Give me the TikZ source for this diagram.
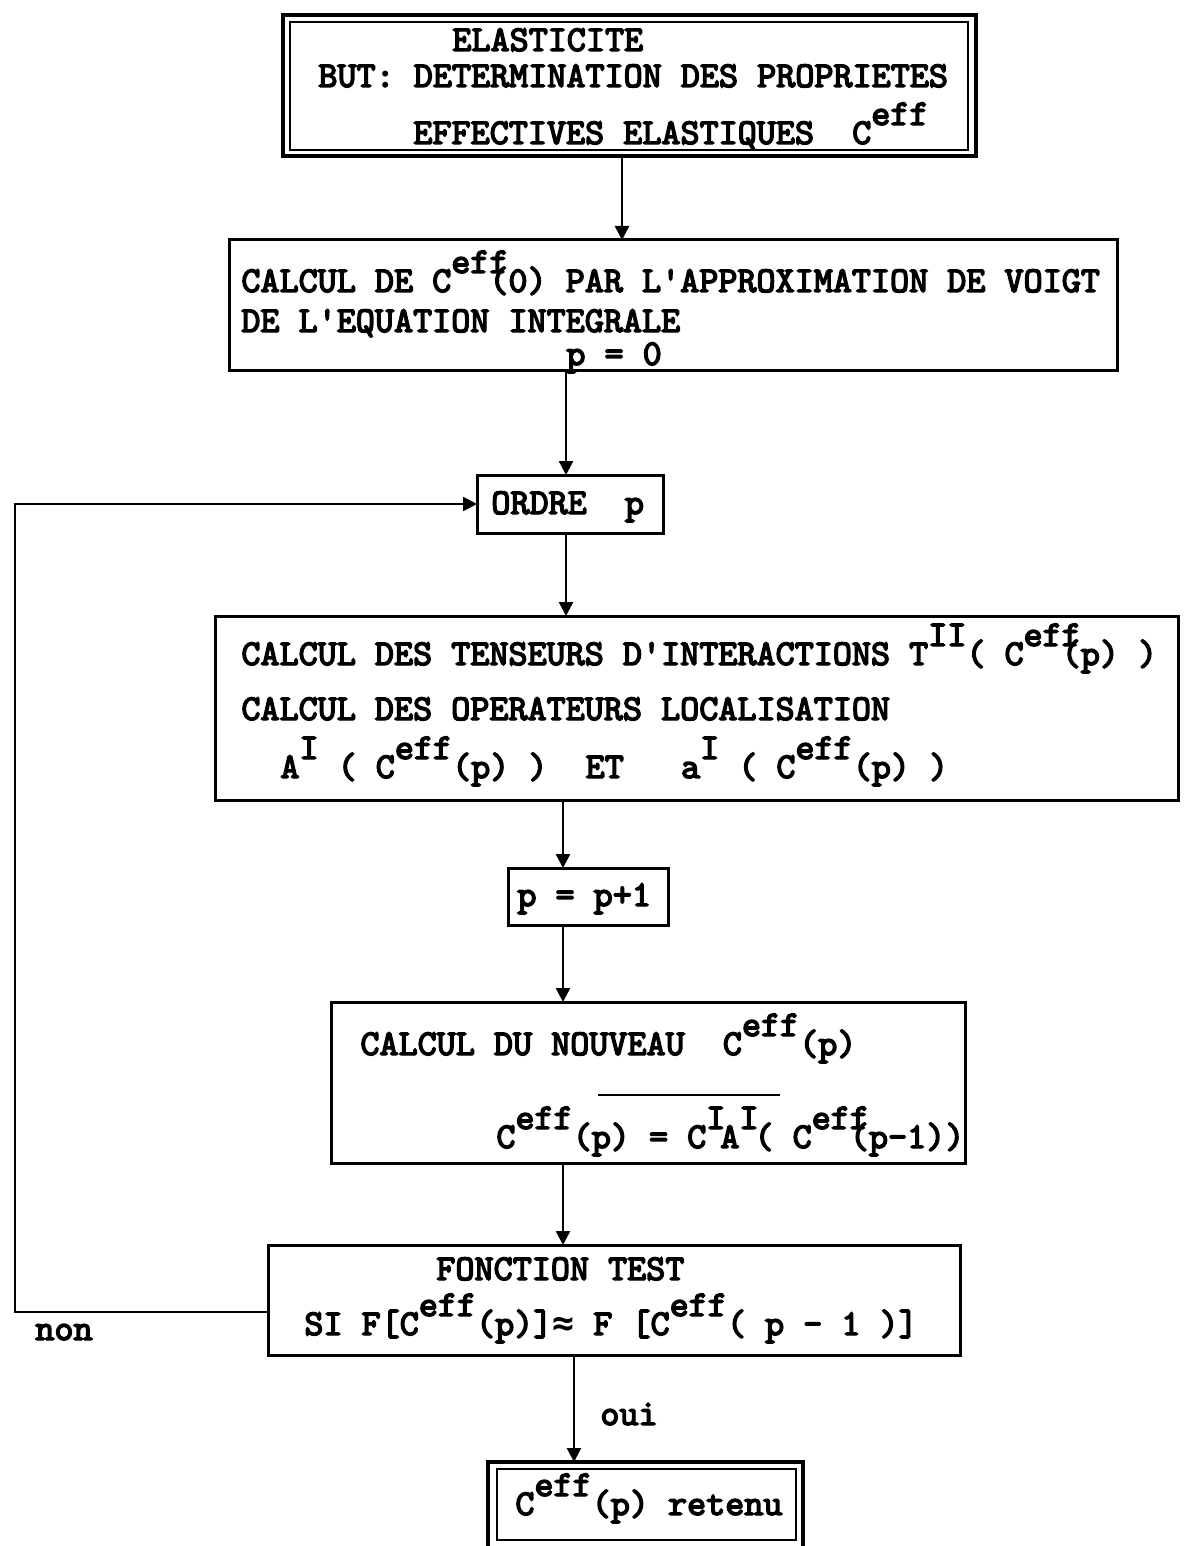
\documentclass[tikz,border=0pt]{standalone}
\usepackage{fontspec}
\newfontfamily\machine{lmmono10-regular.otf}[FakeBold=4]
\newfontfamily\signes{DejaVu Sans Mono Bold}
\usepackage{tikz}
\usetikzlibrary{arrows.meta}

% exposants a la machine a ecrire
\newcommand{\ex}[1]{\raisebox{9.5pt}{#1}}
\newcommand{\exo}[1]{\rlap{\raisebox{9.5pt}{#1}}\hspace{19.08pt}}
\newcommand{\env}{{\signes ≈}}

\tikzset{
  boite/.style={draw, line width=1.5pt, inner sep=0pt, outer sep=0pt},
  cadre/.style={draw, line width=1.9pt, inner sep=0pt, outer sep=0pt},
  ligne/.style={anchor=base west, inner sep=0pt,
    font=\fontsize{18.17}{22}\selectfont\machine},
  fleche/.style={line width=1.2pt, -{Triangle[length=7pt,width=7pt]}}
}

\begin{document}
\begin{tikzpicture}[x=0.5pt,y=-0.5pt]
  \useasboundingbox (0,0) rectangle (1192,1546);

  % les boites
  \node[cadre, minimum width=346.5pt, minimum height=70.5pt] (but) at (629.5,85.5) {};
  \node[boite, line width=1.1pt, minimum width=339pt, minimum height=64pt] (butin) at (629,86) {};
  \node[boite, minimum width=444pt, minimum height=65pt] (voigt) at (673,305) {};
  \node[boite, minimum width=93pt, minimum height=29pt] (ordre) at (570,504) {};
  \node[boite, minimum width=481.5pt, minimum height=92pt] (tenseurs) at (696.5,708) {};
  \node[boite, minimum width=80pt, minimum height=28.5pt] (incr) at (588,896.5) {};
  \node[boite, minimum width=317pt, minimum height=80.5pt] (nouveau) at (648,1082.5) {};
  \node[boite, minimum width=346pt, minimum height=55pt] (test) at (614,1300) {};
  \node[cadre, minimum width=157.5pt, minimum height=59pt] (retenu) at (645.5,1521) {};
  \node[boite, line width=1.1pt, minimum width=149.5pt, minimum height=35.5pt] (retenuin) at (646.5,1504.5) {};

  % les textes
  \node[ligne] (t1) at (452,51) {ELASTICITE};
  \node[ligne] (t2) at (318,87) {BUT: DETERMINATION DES PROPRIETES};
  \node[ligne] (t3) at (413,144) {EFFECTIVES ELASTIQUES\ \ C\ex{eff}};

  \node[ligne] (v1) at (241,292) {CALCUL DE C\exo{eff}(0) PAR L'APPROXIMATION DE VOIGT};
  \node[ligne] (v2) at (241,332) {DE L'EQUATION INTEGRALE};
  \node[ligne] (v3) at (566,365) {p = 0};

  \node[ligne] (o1) at (491,514) {ORDRE\ \ p};

  \node[ligne] (c1) at (241,665) {CALCUL DES TENSEURS D'INTERACTIONS T\ex{II}( C\exo{eff}(p) )};
  \node[ligne] (c2) at (241,720) {CALCUL DES OPERATEURS LOCALISATION};
  \node[ligne] (c3) at (280,778) {A\ex{I} ( C\ex{eff}(p) )\ \ ET\ \ \ a\ex{I} ( C\ex{eff}(p) )};

  \node[ligne] (i1) at (517,906) {p = p+1};

  \node[ligne] (n1) at (360,1055) {CALCUL DU NOUVEAU\ \ C\ex{eff}(p)};
  \node[ligne] (n2) at (496,1148) {C\ex{eff}(p) = C\ex{I}\kern-2.5pt A\ex{I}\kern-2pt( C\exo{eff}(p-1))};
  \draw[line width=1.3pt] (598,1095) -- (780,1095);

  \node[ligne] (f1) at (436,1280) {FONCTION TEST};
  \node[ligne] (f2) at (304,1335) {SI F[C\ex{eff}(p)]\env{} F [C\ex{eff}( p - 1 )]};

  \node[ligne] (r1) at (515,1515) {C\ex{eff}(p) retenu};

  \node[ligne] (non) at (35,1340) {non};
  \node[ligne] (oui) at (600,1425) {oui};

  % les fleches
  \coordinate (gauche) at (15,0);
  \draw[fleche] (but.south -| 622,0) -- (voigt.north -| 622,0);
  \draw[fleche] (voigt.south -| 566,0) -- (ordre.north -| 566,0);
  \draw[fleche] (ordre.south -| 566,0) -- (tenseurs.north -| 566,0);
  \draw[fleche] (tenseurs.south -| 563,0) -- (incr.north -| 563,0);
  \draw[fleche] (incr.south -| 563,0) -- (nouveau.north -| 563,0);
  \draw[fleche] (nouveau.south -| 563,0) -- (test.north -| 563,0);
  \draw[fleche] (test.south -| 574,0) -- (retenu.north -| 574,0);
  \draw[fleche] ([yshift=-6pt]test.west) -| (gauche |- ordre.west) -- (ordre.west);
\end{tikzpicture}
\end{document}
